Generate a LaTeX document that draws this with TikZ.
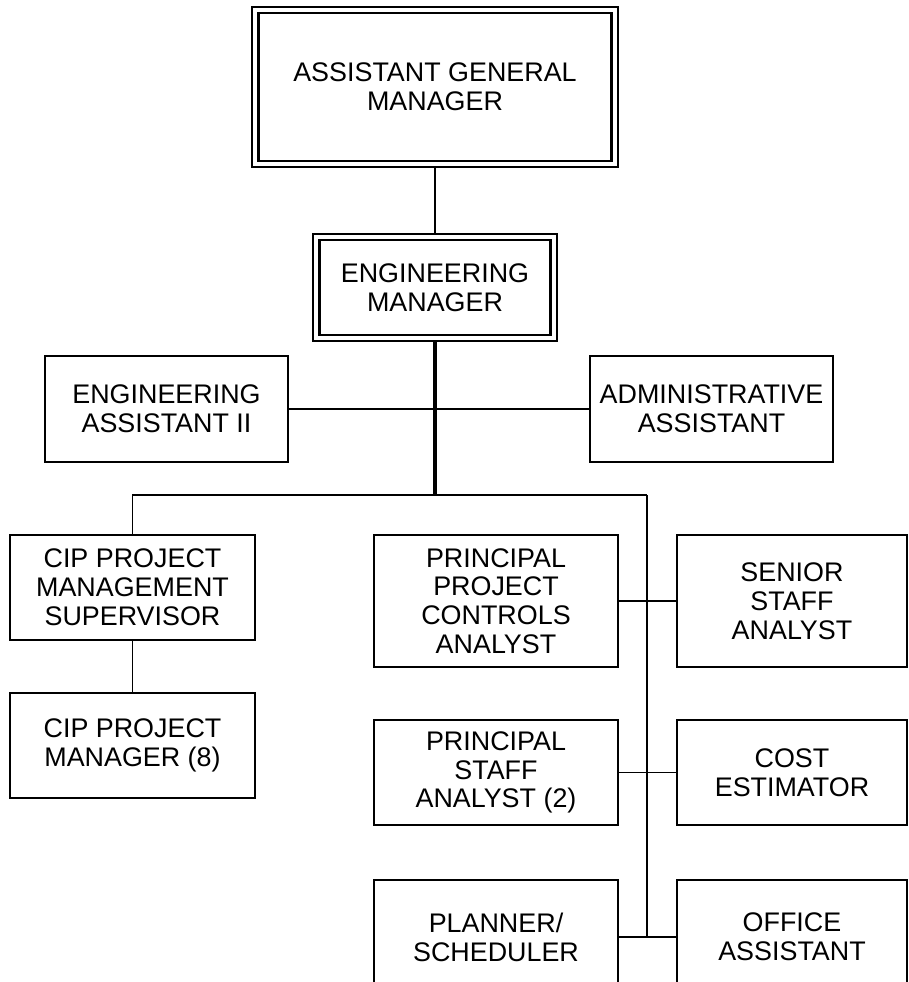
\documentclass[tikz,border=0pt]{standalone}
\usepackage{fontspec}
\setmainfont{Liberation Sans}
\usetikzlibrary{positioning}
\tikzset{
	postbox/.style={draw, line width=1.2pt, align=center, inner sep=0pt,
		font=\fontsize{15.3}{16.4}\selectfont}
}
\tikzset{
	headbox/.style={postbox, double, double distance=0.8mm, line width=0.42mm, outer sep=0.82mm}
}
\tikzset{
	link/.style={line width=1pt},
	trunk/.style={line width=1.8pt},
	riser/.style={line width=1.5pt}
}

\begin{document}
\begin{tikzpicture}[x=0.2mm, y=-0.2mm]
      \useasboundingbox (0,0) rectangle (909,982);
      \clip (0,0) rectangle (909,982);
      % top of the chart
      \node[headbox, minimum width=71.8mm, minimum height=30.8mm] (agm) at (435,87) {ASSISTANT GENERAL\\MANAGER};
      \node[headbox, minimum width=47.4mm, minimum height=20.2mm] (em) at (435,287.5) {ENGINEERING\\MANAGER};
      \node[postbox, minimum width=48.6mm, minimum height=21.2mm] (ea) at (166.5,409) {ENGINEERING\\ASSISTANT II};
      \node[postbox, minimum width=48.6mm, minimum height=21.2mm] (aa) at (711.5,409) {ADMINISTRATIVE\\ASSISTANT};
      % left column
      \node[postbox, minimum width=49mm, minimum height=21mm] (cips) at (132.5,587.5) {CIP PROJECT\\MANAGEMENT\\SUPERVISOR};
      \node[postbox, minimum width=49mm, minimum height=21mm] (cipm) at (132.5,745.5) {CIP PROJECT\\MANAGER (8)};
      % staff on both sides of the riser
      \node[postbox, minimum width=48.8mm, minimum height=26.4mm] (ppca) at (496,601) {PRINCIPAL\\PROJECT\\CONTROLS\\ANALYST};
      \node[postbox, minimum width=46mm, minimum height=26.4mm] (ssa) at (792,601) {SENIOR\\STAFF\\ANALYST};
      \node[postbox, minimum width=48.8mm, minimum height=21mm] (psa) at (496,772.5) {PRINCIPAL\\STAFF\\ANALYST (2)};
      \node[postbox, minimum width=46mm, minimum height=21mm] (ce) at (792,772.5) {COST\\ESTIMATOR};
      \node[postbox, minimum width=48.8mm, minimum height=22.8mm] (ps) at (496,937) {PLANNER/\\SCHEDULER};
      \node[postbox, minimum width=46mm, minimum height=22.8mm] (oa) at (792,937) {OFFICE\\ASSISTANT};
      \coordinate (split) at (435,495);
      \coordinate (stem) at (647,495);
      % connectors
      \draw[link] (agm) -- (em);
      \draw[trunk] (em) -- (split);
      \draw[link] (ea) -- (aa);
      \draw[link] (cips) |- (stem);
      \draw[riser] (stem) -- (stem |- ps.east);
      \draw[link] (cips) -- (cipm);
      \draw[link] (ppca) -- (ssa);
      \draw[link] (psa) -- (ce);
      \draw[link] (ps) -- (oa);
    \end{tikzpicture}
\end{document}
